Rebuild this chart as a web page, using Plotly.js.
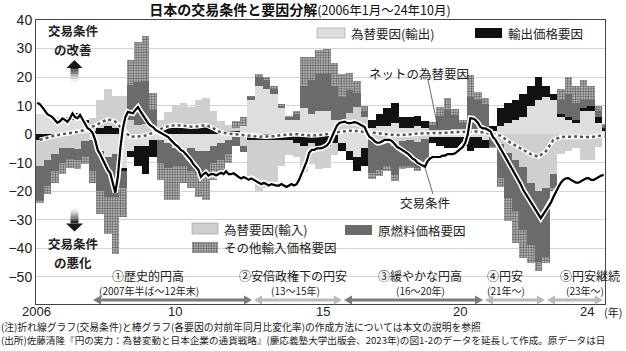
<!DOCTYPE html>
<html><head><meta charset="utf-8">
<script src="https://cdn.plot.ly/plotly-3.0.1.min.js"></script>
<style>html,body{margin:0;padding:0;background:#fff;}#chart{width:626px;height:351px;}</style>
</head><body><div id="chart"></div>
<script>
// ---- data (quarterly factor contributions, 2006Q1 .. 2024Q3, Oct 2024) ----
const fxExport = [7,7,6,5, 5,6,4,-2, -6,-8,-7,-12, -6,-4,-4,-2, -2,-3,-5,-6, -5,-6,-6,-4, -3,-2,-1,3,
  12,17,16,14, 9,5,5,9, 7,8,8,5, -3,-6,-8,-5, 2,3,3,4, 2,2,3,2, -1,-1,-1,-1, -1,-1,-1,-2,
  1,3,4,5, 6,10,12,13, 12,6,5,4, 8,8,4,1];
const exportPrice = [-2,-1,-0.5,0.5, 1,1.5,1,1, 2,3,2,-1, -2,-7,-10,-6, 1,2,2,2, 2,3,3.5,2, 1,1,1,-1,
  -2,-2,-2,-2, -2,-2,-3,-4, -3,-4,-4,-3, -3,-3,-5,-6, 3,4,6,7, 4,4,3.5,2.5, -2,-3,-4,-4, -3,-5,-4,-3,
  2,6,7,7, 8,7,8,4, 2,1,1,1, 1,2,2,1];
const fxImport = [-9,-8,-6.5,-5, -4.7,-5.2,-2.5,4.6, 10,13,11.4,13.5, 5.1,3.2,3.5,2.5, 3.8,5.8,8.2,9, 7.6,8.8,9.2,6, 3.6,2.2,1,-3.3,
  -12.6,-17.9,-16.9,-14.7, -9.3,-5.2,-5,-9.3, -7.5,-8.3,-8,-4.4, 4,7.5,9.5,6, -1.6,-2.7,-3,-4.3, -2.3,-2,-2.8,-1.7, 1.3,1.4,1.5,1.7, 1.9,1.9,1.9,2.5,
  -1,-3.5,-6.5,-9, -11.5,-17,-19.9,-19, -14,-7,-5.9,-4.8, -9,-9,-4.6,-1.3];
const fuelPrice = [-12,-9,-6,-5, -4,-4,-5,-11, -14,-14,-15,-6, 12,15,15,6, -8,-9,-6,-5, -8,-8,-8,-6, -6,-5,-3,-2,
  1,3,3,2, 1,1,2,8, 12,13,13,12, 9,8,5,2, -12,-10,-8,-10, -9,-9,-9,-8, 2,5,7,5, 2,11,10,8,
  -3,-12,-16,-18, -22,-22,-25,-24, -5,5,8,6, 3,2,2,1];
const otherImport = [-1,-3,-4,-4, -3,-3,-3,-4, -8,-13,-20,-10, 9,14,16,6, -6,-11,-12,-6, -6,-8,-9,-6, -5,-3,2.5,3,
  0.5,1,1,1, 0.5,0.5,1,10, 8,8.5,9,8, 8,6,4,2, -2,-2,-2,-2, -1,-1,-1,-1, 1,3,4,2, 1,8,3,2,
  -1,-3,-8,-11, -10,-6,-3,-2, -1,4,6,6, 7,5,2,0.5];
const netFx = [-2,-1.2,-0.5,0, 0.3,0.8,1.5,2.6, 3.9,5.2,4.4,1.5, -0.9,-0.8,-0.5,0.5, 1.8,2.8,3.2,3, 2.6,2.8,3.2,2, 0.6,0.2,0,-0.3,
  -0.6,-0.9,-0.9,-0.7, -0.3,-0.2,0,-0.3, -0.5,-0.3,0,0.6, 1,1.2,1.1,0.8, 0.4,0.3,0,-0.3, -0.3,0,0.2,0.3, 0.3,0.4,0.5,0.7, 0.9,0.9,0.9,0.5,
  0,-0.5,-2.5,-4, -5.5,-7,-7.9,-6, -2,-1,-0.9,-0.8, -1,-1,-0.6,-0.3];
// monthly terms of trade, Jan 2006 .. Oct 2024
const termsOfTrade = [
  11,10.5,9.5,8,7,6.5,6,5,4,4.5,5.5,5,
  4.3,5.5,7.3,6,5.6,6.7,5,3.5,2.1,1.5,0.4,-2,
  -5.5,-7,-9,-11,-12.5,-13.7,-17,-20.5,-15,-5,2,6,
  7.8,7.5,7.3,8.5,9.5,8,6.7,5,3.9,3,2.5,1.5,
  1,0.4,0,-0.5,-1,-2,-3,-3.8,-4.4,-5.5,-6,-7,
  -8,-9,-10.5,-11.5,-12.5,-15,-14,-13.5,-14.5,-14,-14,-14.5,
  -14,-13.5,-14,-13,-14,-14,-13.7,-14.5,-15,-15.5,-15,-15.5,
  -16,-15.5,-16,-16.5,-17,-17.5,-17,-17.5,-18,-17.5,-17.8,-18,
  -18,-17.5,-18,-18.5,-18,-17.5,-18,-17.5,-16,-14,-12,-9.5,
  -6.5,-5.5,-5.5,-5,-5,-4.9,-4.5,-4,-3,-1,1.5,3,
  3.9,4.2,4.4,4,3.8,4,4.2,4,3.5,3,2.5,0.5,
  -1,-1.5,-2.5,-3,-3,-2.5,-2,-2,-2,-2.5,-3.5,-4.5,
  -5,-5.5,-6,-6.7,-7.5,-8.5,-9,-10,-10.5,-11,-11.4,-9.5,
  -8.5,-8,-8,-8,-8,-7.5,-7.5,-7,-7,-7,-6.7,-6,
  -5,-4.5,-3,0,5.6,5.5,5,4,2.5,2,2,1.5,
  1,-1,-2,-3.5,-5,-6.5,-8,-9.5,-11,-12.5,-14,-15.5,
  -17.5,-19.5,-21,-22.5,-24,-25.5,-27,-28,-29.4,-28,-26.5,-25,
  -24,-22,-20,-18.5,-17,-16,-15.5,-15.4,-16,-16.5,-17,-17,
  -16.5,-16,-15.5,-15.4,-16,-16,-15.5,-15,-14.5,-14.3];
const yTicks = [-50,-40,-30,-20,-10,0,10,20,30,40];
const xTickVals = [2006, 2010.6, 2015.5, 2020.03, 2024.24];
const xTickText = ['2006','10','15','20','24'];

// ---- geometry helpers ----
const L=36,R=605,T=20,B=304,W=R-L,H=B-T;
const px=x=>(x-L)/W, py=y=>(B-y)/H;
const NM = termsOfTrade.length;
const qx=[], qw=[];
for(let q=0;q<fxExport.length;q++){const m0=3*q,m1=Math.min(3*q+3,NM);qx.push(2006+(m0+m1)/24);qw.push((m1-m0)/12);}
const mx = termsOfTrade.map((_,i)=>2006+(i+0.5)/12);

const JP = "'Noto Sans CJK JP', sans-serif";
const NUM = "'Liberation Sans', Arial, sans-serif";
const C = {efx:'#dedede', ep:'#111111', ifx:'#cfcfcf', fuel:'#6b6b6b', othBg:'#cdcdcd', othFg:'#5a5a5a'};
const othPattern = {shape:'.', fgcolor:C.othFg, bgcolor:C.othBg, size:2.6, solidity:0.5, fillmode:'replace'};

function bar(name,y,color,pattern){
  const m={color:color,line:{width:0}}; if(pattern) m.pattern=pattern;
  return {type:'bar',name,x:qx,y,width:qw,marker:m,hoverinfo:'skip',showlegend:false};
}
const traces = [
  bar('為替要因(輸出)',fxExport,C.efx),
  bar('輸出価格要因',exportPrice,C.ep),
  bar('為替要因(輸入)',fxImport,C.ifx),
  bar('原燃料価格要因',fuelPrice,C.fuel),
  bar('その他輸入価格要因',otherImport,C.othBg,othPattern),
  {type:'scatter',mode:'lines',x:qx,y:netFx,line:{color:'#ffffff',width:4.5},hoverinfo:'skip',showlegend:false},
  {type:'scatter',mode:'lines',name:'ネットの為替要因',x:qx,y:netFx,line:{color:'#555',width:2.5,dash:'dot'},hoverinfo:'skip',showlegend:false},
  {type:'scatter',mode:'lines',x:mx,y:termsOfTrade,line:{color:'#ffffff',width:5.5},hoverinfo:'skip',showlegend:false},
  {type:'scatter',mode:'lines',name:'交易条件',x:mx,y:termsOfTrade,line:{color:'#000',width:2.2},hoverinfo:'skip',showlegend:false},
  // hatched legend swatch
  {type:'bar',x:[0.5],y:[1],width:[1],xaxis:'x2',yaxis:'y2',marker:{color:C.othBg,line:{width:0.5,color:'#888'},pattern:othPattern},hoverinfo:'skip',showlegend:false}
];

const shapes=[];
function rectP(x0,y0,x1,y1,fill,lc){shapes.push({type:'rect',xref:'paper',yref:'paper',x0:px(x0),x1:px(x1),y0:py(y1),y1:py(y0),fillcolor:fill,line:{width:lc?0.6:0,color:lc||fill},layer:'above'});}
function pathP(pts,fill){let s='';pts.forEach((p,i)=>{s+=(i?'L':'M')+px(p[0])+','+py(p[1]);});s+='Z';shapes.push({type:'path',xref:'paper',yref:'paper',path:s,fillcolor:fill,line:{width:0},layer:'above'});}
function lineP(x0,y0,x1,y1,color,w){shapes.push({type:'line',xref:'paper',yref:'paper',x0:px(x0),y0:py(y0),x1:px(x1),y1:py(y1),line:{color,width:w},layer:'above'});}
// legend swatches
rectP(317,28,345,38,C.efx,'#999');
rectP(475,28,502,38,C.ep);
rectP(192,223,218,234,C.ifx,'#999');
rectP(345,225,372,235,C.fuel);
// up arrow (gradient)
const upCols=['#2a2a2a','#555','#808080','#aaa','#d0d0d0','#eeeeee'];
upCols.forEach((c,k)=>rectP(70.5,67+k*2.4,78.5,67+(k+1)*2.4,c));
pathP([[66.5,68],[74.5,60],[82.5,68]],'#1a1a1a');
// down arrow (gradient)
const dnCols=['#eeeeee','#d0d0d0','#aaa','#808080','#555','#2a2a2a'];
dnCols.forEach((c,k)=>rectP(70.5,209+k*2.4,78.5,209+(k+1)*2.4,c));
pathP([[66,223.5],[74.5,231.5],[83,223.5]],'#1a1a1a');
// period arrows
function dblArrow(x0,x1,color){
  const y=300; lineP(x0+6,y,x1-6,y,color,3);
  pathP([[x0,y],[x0+8,y-4.5],[x0+8,y+4.5]],color);
  pathP([[x1,y],[x1-8,y-4.5],[x1-8,y+4.5]],color);
}
const dark='#7a7a7a', light='#b9b9b9';
dblArrow(93,252,dark); dblArrow(254,342,light); dblArrow(344,483,dark); dblArrow(485,545,light); dblArrow(547,603,light);
// leader lines
lineP(428,80,438,128,'#444',0.8);
lineP(425,168,433,194,'#444',0.8);

function ann(x,y,text,size,opts){return Object.assign({xref:'paper',yref:'paper',x:px(x),y:py(y),text,showarrow:false,
  font:{family:JP,size,color:'#222'},xanchor:'center',yanchor:'middle',borderpad:0},opts||{});}
const annotations=[
  ann(73,31,'<b>交易条件</b>',12.5),
  ann(73,50,'<b>の改善</b>',12.5),
  ann(73,243,'<b>交易条件</b>',12.5),
  ann(73,262,'<b>の悪化</b>',12.5),
  ann(419,73,'ネットの為替要因',12.5),
  ann(425,202,'交易条件',12.5),
  ann(350,33,'為替要因(輸出)',12.5,{xanchor:'left'}),
  ann(507,33,'輸出価格要因',12.5,{xanchor:'left'}),
  ann(223,229,'為替要因(輸入)',12.5,{xanchor:'left'}),
  ann(223,247.5,'その他輸入価格要因',12.5,{xanchor:'left'}),
  ann(377,230,'原燃料価格要因',12.5,{xanchor:'left'}),
  ann(148,275,'①歴史的円高',12),
  ann(149,290.5,'(2007年半ば～12年末)',10),
  ann(293,275,'②安倍政権下の円安',12),
  ann(295,290.5,'(13～15年)',10),
  ann(420,275,'③緩やかな円高',12),
  ann(420,290.5,'(16～20年)',10),
  ann(505,275,'④円安',12),
  ann(506,290.5,'(21年～)',10),
  ann(590,275,'⑤円安継続',12),
  ann(585,290.5,'(23年～)',10),
  ann(613,311.5,'(年)',11),
  ann(0,326.5,'(注)折れ線グラフ(交易条件)と棒グラフ(各要因の対前年同月比変化率)の作成方法については本文の説明を参照',9.8,{xanchor:'left'}),
  ann(0,339.5,'(出所)佐藤清隆『円の実力：為替変動と日本企業の通貨戦略』(慶応義塾大学出版会、2023年)の図1-2のデータを延長して作成。原データは日',9.6,{xanchor:'left'})
];
// x tick labels placed just under the frame
xTickVals.forEach((v,k)=>annotations.push({xref:'x',yref:'paper',x:v,y:py(311.5),text:xTickText[k],showarrow:false,
  font:{family:NUM,size:13,color:'#222'},xanchor:'center',yanchor:'middle',borderpad:0}));

const layout={
  width:626,height:351,margin:{l:L,r:626-R,t:T,b:351-B,pad:0},
  paper_bgcolor:'#fff',plot_bgcolor:'#fff',barmode:'relative',bargap:0,showlegend:false,
  title:{text:'<b>日本の交易条件と要因分解</b><span style="font-size:12.5px">(2006年1月～24年10月)</span>',
    x:300/626,xref:'container',xanchor:'center',y:1-10.5/351,yref:'container',yanchor:'middle',
    font:{family:JP,size:14,color:'#111'}},
  xaxis:{type:'linear',range:[2006,2006+NM/12],tickvals:xTickVals,showticklabels:false,ticks:'',showgrid:false,zeroline:false,
    showline:true,mirror:true,linecolor:'#444',linewidth:1},
  yaxis:{range:[-59.5,40],tickvals:yTicks,ticks:'',showgrid:true,gridcolor:'#d4d4d4',gridwidth:1,zeroline:false,
    showline:true,mirror:true,linecolor:'#444',linewidth:1,tickfont:{family:NUM,size:14,color:'#222'}},
  xaxis2:{domain:[px(192),px(218)],range:[0,1],visible:false,anchor:'y2',fixedrange:true},
  yaxis2:{domain:[py(253),py(242)],range:[0,1],visible:false,anchor:'x2',fixedrange:true},
  shapes,annotations
};
Plotly.newPlot('chart',traces,layout,{staticPlot:true,displayModeBar:false});
</script></body></html>
